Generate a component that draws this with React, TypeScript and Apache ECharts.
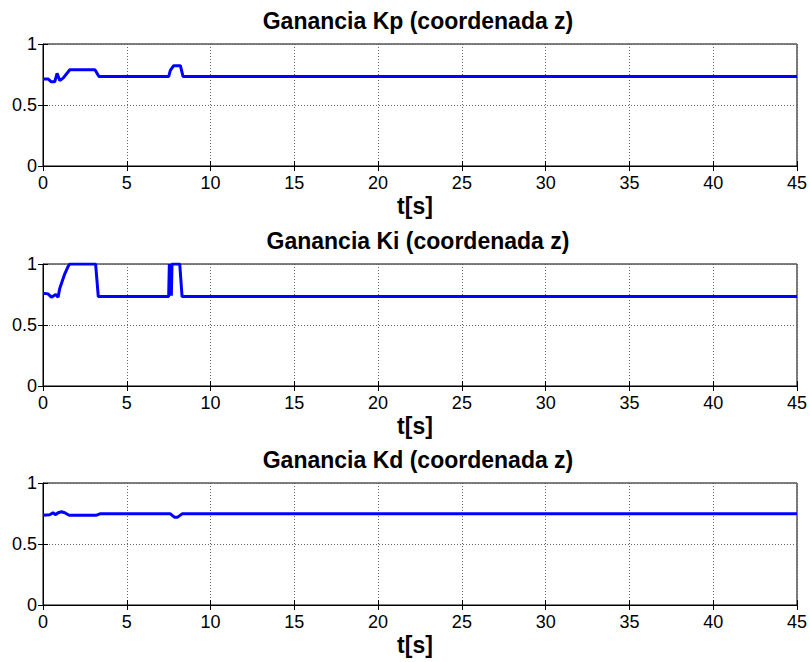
import React, { useEffect, useRef } from "react";
import * as echarts from "echarts";

const titles = ["Ganancia Kp (coordenada z)", "Ganancia Ki (coordenada z)", "Ganancia Kd (coordenada z)"];
const xTicks = [0, 5, 10, 15, 20, 25, 30, 35, 40, 45];

const kpT = [0, 0.3, 0.5, 0.7, 0.84, 1.0, 1.2, 1.6, 3.1, 3.34, 7.5, 7.6, 7.8, 8.2, 8.36, 45];
const kpV = [0.714, 0.714, 0.69, 0.69, 0.76, 0.7, 0.72, 0.789, 0.789, 0.733, 0.733, 0.783, 0.822, 0.822, 0.733, 0.733];

const kiT = [0, 0.3, 0.5, 0.76, 0.9, 1.0, 1.1, 1.3, 1.5, 1.6, 3.14, 3.3, 7.5, 7.54, 7.58, 7.62, 7.66, 7.7, 8.16, 8.3, 45];
const kiV = [0.761, 0.755, 0.728, 0.75, 0.728, 0.8, 0.84, 0.92, 0.98, 1.0, 1.0, 0.733, 0.733, 1.0, 0.74, 1.0, 0.74, 1.0, 1.0, 0.733, 0.733];

const kdT = [0, 0.4, 0.6, 0.76, 0.9, 1.1, 1.3, 1.56, 3.2, 3.4, 7.6, 7.84, 8.04, 8.3, 45];
const kdV = [0.736, 0.74, 0.756, 0.74, 0.756, 0.764, 0.756, 0.736, 0.736, 0.747, 0.747, 0.72, 0.72, 0.747, 0.747];

const seriesT = [kpT, kiT, kdT];
const seriesV = [kpV, kiV, kdV];

const gridTops = [44, 264, 483];
const gridH = 122;
const FONT = "'Liberation Sans', Arial, sans-serif";

export default function App() {
  const ref = useRef<HTMLDivElement>(null);
  useEffect(() => {
    const chart = echarts.init(ref.current!, null, { renderer: "svg" });
    const grids: any[] = [];
    const xAxes: any[] = [];
    const yAxes: any[] = [];
    const series: any[] = [];
    const title: any[] = [];
    for (let i = 0; i < 3; i++) {
      grids.push({
        left: 43,
        right: 13,
        top: gridTops[i],
        height: gridH,
        show: true,
        borderColor: "#000",
        borderWidth: 1,
        backgroundColor: "#fff",
      });
      title.push({
        text: titles[i],
        left: 413,
        top: gridTops[i] - 40,
        textAlign: "center",
        textStyle: { fontFamily: FONT, fontWeight: "bold", fontSize: 23, color: "#000" },
      });
      xAxes.push({
        type: "value",
        gridIndex: i,
        min: 0,
        max: 45,
        interval: 5,
        position: "bottom",
        name: "t[s]",
        nameLocation: "middle",
        nameGap: 28,
        nameTextStyle: { fontFamily: FONT, fontWeight: "bold", fontSize: 23, color: "#000", padding: [0, 10, 0, 0] },
        axisLine: { show: true, onZero: false, lineStyle: { color: "#000", width: 1 } },
        axisTick: { show: true, inside: true, length: 5, lineStyle: { color: "#000" } },
        axisLabel: { fontFamily: FONT, fontSize: 18, color: "#000", margin: 8 },
        splitLine: { show: true, lineStyle: { type: [1, 2], color: "#666", width: 1 } },
      });
      xAxes.push({
        type: "value",
        gridIndex: i,
        min: 0,
        max: 45,
        interval: 5,
        position: "top",
        axisLine: { show: false },
        axisTick: { show: true, inside: true, length: 5, lineStyle: { color: "#000" } },
        axisLabel: { show: false },
        splitLine: { show: false },
      });
      yAxes.push({
        type: "value",
        gridIndex: i,
        min: 0,
        max: 1,
        interval: 0.5,
        position: "left",
        axisLine: { show: true, lineStyle: { color: "#000", width: 1 } },
        axisTick: { show: true, inside: true, length: 5, lineStyle: { color: "#000" } },
        axisLabel: { fontFamily: FONT, fontSize: 18, color: "#000", margin: 6 },
        splitLine: { show: true, lineStyle: { type: [1, 2], color: "#666", width: 1 } },
      });
      yAxes.push({
        type: "value",
        gridIndex: i,
        min: 0,
        max: 1,
        interval: 0.5,
        position: "right",
        axisLine: { show: false },
        axisTick: { show: true, inside: true, length: 5, lineStyle: { color: "#000" } },
        axisLabel: { show: false },
        splitLine: { show: false },
      });
      series.push({
        type: "line",
        xAxisIndex: i * 2,
        yAxisIndex: i * 2,
        data: seriesT[i].map((t, k) => [t, seriesV[i][k]]),
        showSymbol: false,
        symbol: "none",
        lineStyle: { color: "#0000ff", width: 3 },
        clip: true,
      });
    }
    chart.setOption({
      animation: false,
      backgroundColor: "#fff",
      title,
      grid: grids,
      xAxis: xAxes,
      yAxis: yAxes,
      series,
    });
    return () => chart.dispose();
  }, []);
  return (
    <div
      ref={ref}
      style={{ position: "fixed", left: 0, top: 0, width: 810, height: 662 }}
    />
  );
}
